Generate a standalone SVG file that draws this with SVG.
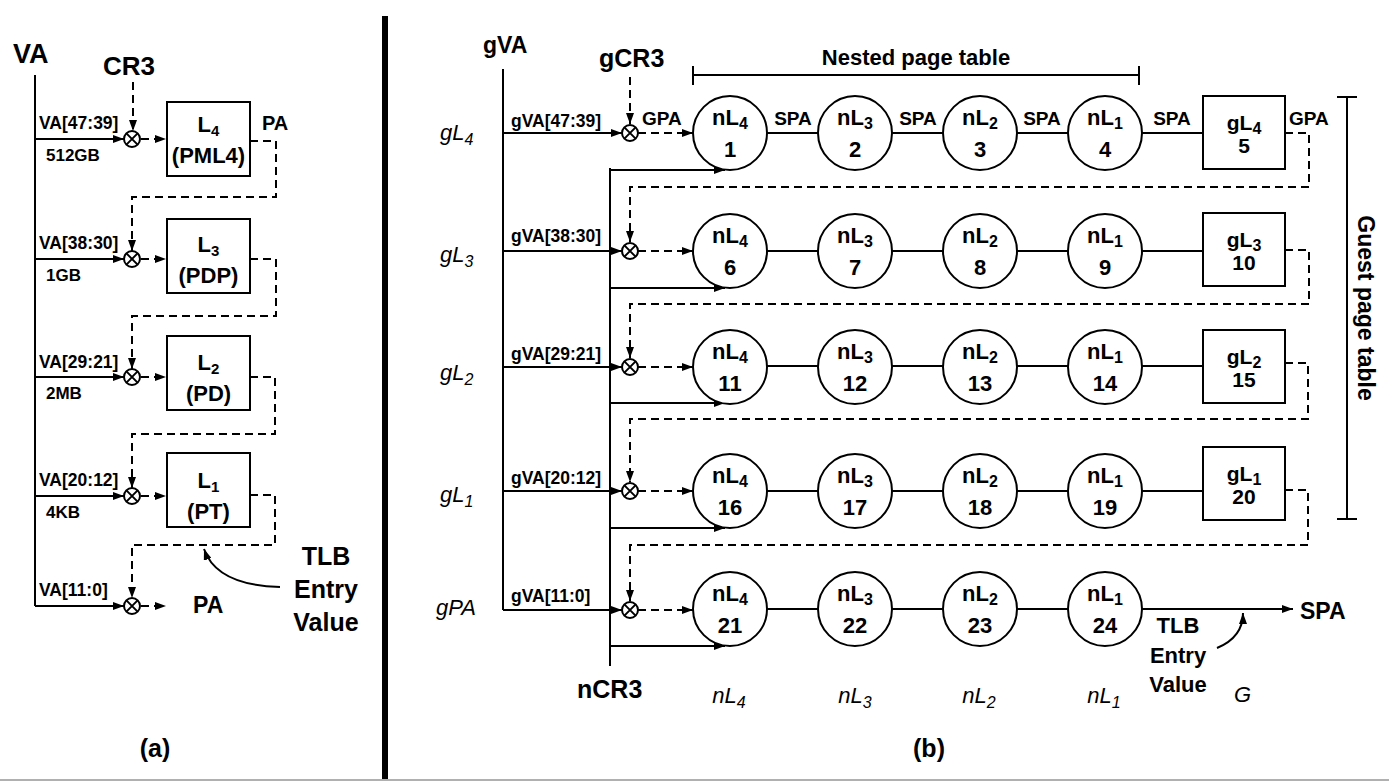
<svg xmlns="http://www.w3.org/2000/svg" width="1389" height="781" viewBox="0 0 1389 781">
<style>
.ln{stroke:#000;stroke-width:2;fill:none}
.ds{stroke:#000;stroke-width:2;fill:none;stroke-dasharray:8 5}
.nd{stroke:#000;stroke-width:2;fill:#fff}
.b{font-family:"Liberation Sans",Arial,sans-serif;font-weight:bold;fill:#000}
.i{font-family:"Liberation Sans",Arial,sans-serif;font-style:italic;fill:#000}
.c{text-anchor:middle}
.nt{font-size:22px}
</style>
<defs>
<marker id="ah" markerWidth="11" markerHeight="8" refX="11" refY="4" orient="auto" markerUnits="userSpaceOnUse"><path d="M0,0 L11,4 L0,8 z" fill="#000"/></marker>
<g id="ox"><circle r="8" fill="#fff" stroke="#000" stroke-width="2"/><path d="M-5.6,-5.6 L5.6,5.6 M-5.6,5.6 L5.6,-5.6" stroke="#000" stroke-width="2"/></g>
</defs>
<rect width="1389" height="781" fill="#fff"/>
<!-- divider and bottom rule -->
<rect x="382" y="16" width="6" height="765" fill="#000"/>
<line x1="0" y1="780" x2="1389" y2="780" stroke="#b0b0b0" stroke-width="2"/>

<!-- ===== Panel (a) ===== -->
<g id="a-connectors">
<line class="ln" x1="35" y1="75" x2="35" y2="606"/>
<line class="ln" x1="35" y1="139" x2="124" y2="139" marker-end="url(#ah)"/>
<line class="ln" x1="35" y1="259" x2="124" y2="259" marker-end="url(#ah)"/>
<line class="ln" x1="35" y1="377" x2="124" y2="377" marker-end="url(#ah)"/>
<line class="ln" x1="35" y1="496" x2="124" y2="496" marker-end="url(#ah)"/>
<line class="ln" x1="35" y1="606" x2="124" y2="606" marker-end="url(#ah)"/>
<line class="ds" x1="133" y1="82" x2="133" y2="131" marker-end="url(#ah)"/>
<line class="ds" x1="141" y1="139" x2="166" y2="139" marker-end="url(#ah)"/>
<line class="ds" x1="141" y1="259" x2="166" y2="259" marker-end="url(#ah)"/>
<line class="ds" x1="141" y1="377" x2="166" y2="377" marker-end="url(#ah)"/>
<line class="ds" x1="141" y1="496" x2="166" y2="496" marker-end="url(#ah)"/>
<line class="ds" x1="141" y1="606" x2="166" y2="606" marker-end="url(#ah)"/>
<path class="ds" d="M250,141 H276 V197 H132 V251" marker-end="url(#ah)"/>
<path class="ds" d="M250,259 H276 V316 H132 V369" marker-end="url(#ah)"/>
<path class="ds" d="M250,377 H275 V434 H132 V488" marker-end="url(#ah)"/>
<path class="ds" d="M250,495 H275 V545 H132 V598" marker-end="url(#ah)"/>
<path class="ln" stroke-width="1.5" d="M280,587 C242,586 213,575 204,549" marker-end="url(#ah)"/>
</g>
<use href="#ox" x="132" y="139"/>
<use href="#ox" x="132" y="259"/>
<use href="#ox" x="132" y="377"/>
<use href="#ox" x="132" y="496"/>
<use href="#ox" x="132" y="606"/>
<g id="a-labels">
<text class="b" x="13" y="63" font-size="27">VA</text>
<text class="b" x="103" y="75" font-size="26">CR3</text>
<text class="b" x="39" y="129" font-size="17.5">VA[47:39]</text>
<text class="b" x="46" y="161" font-size="17">512GB</text>
<text class="b" x="39" y="249" font-size="17.5">VA[38:30]</text>
<text class="b" x="46" y="281" font-size="17">1GB</text>
<text class="b" x="39" y="368" font-size="17.5">VA[29:21]</text>
<text class="b" x="46" y="399" font-size="17">2MB</text>
<text class="b" x="39" y="486" font-size="17.5">VA[20:12]</text>
<text class="b" x="46" y="518" font-size="17">4KB</text>
<text class="b" x="39" y="596" font-size="17.5">VA[11:0]</text>
<text class="b" x="262" y="130" font-size="20">PA</text>
<text class="b" x="193" y="613" font-size="23">PA</text>
<text class="b c" x="326" y="565" font-size="25">TLB</text>
<text class="b c" x="326" y="598" font-size="25">Entry</text>
<text class="b c" x="326" y="631" font-size="25">Value</text>
<text class="b c" x="155" y="757" font-size="25">(a)</text>
</g>
<g id="a-L4"><rect class="nd" x="167" y="102" width="83" height="74"/><text class="b c" x="208.5" y="132" font-size="22">L<tspan font-size="15" dy="4">4</tspan></text><text class="b c" x="208.5" y="163" font-size="22">(PML4)</text></g>
<g id="a-L3"><rect class="nd" x="167" y="219" width="83" height="74"/><text class="b c" x="208.5" y="252" font-size="22">L<tspan font-size="15" dy="4">3</tspan></text><text class="b c" x="208.5" y="283" font-size="22">(PDP)</text></g>
<g id="a-L2"><rect class="nd" x="167" y="336" width="83" height="74"/><text class="b c" x="208.5" y="370" font-size="22">L<tspan font-size="15" dy="4">2</tspan></text><text class="b c" x="208.5" y="401" font-size="22">(PD)</text></g>
<g id="a-L1"><rect class="nd" x="167" y="453" width="83" height="74"/><text class="b c" x="208.5" y="488" font-size="22">L<tspan font-size="15" dy="4">1</tspan></text><text class="b c" x="208.5" y="519" font-size="22">(PT)</text></g>

<!-- ===== Panel (b) ===== -->
<g id="b-connectors">
<line class="ln" x1="503" y1="69" x2="503" y2="610"/>
<line class="ln" x1="610" y1="168" x2="610" y2="666"/>
<line class="ln" x1="503" y1="133" x2="622" y2="133" marker-end="url(#ah)"/>
<line class="ln" x1="503" y1="251" x2="622" y2="251" marker-end="url(#ah)"/>
<line class="ln" x1="503" y1="367" x2="622" y2="367" marker-end="url(#ah)"/>
<line class="ln" x1="503" y1="491" x2="622" y2="491" marker-end="url(#ah)"/>
<line class="ln" x1="503" y1="610" x2="622" y2="610" marker-end="url(#ah)"/>
<line class="ln" x1="610" y1="170" x2="725" y2="170" marker-end="url(#ah)"/>
<line class="ln" x1="610" y1="288" x2="725" y2="288" marker-end="url(#ah)"/>
<line class="ln" x1="610" y1="403" x2="725" y2="403" marker-end="url(#ah)"/>
<line class="ln" x1="610" y1="528" x2="725" y2="528" marker-end="url(#ah)"/>
<line class="ln" x1="610" y1="646" x2="725" y2="646" marker-end="url(#ah)"/>
<line class="ds" x1="630" y1="77" x2="630" y2="124" marker-end="url(#ah)"/>
<line class="ds" x1="638" y1="133" x2="693" y2="133" marker-end="url(#ah)"/>
<line class="ds" x1="638" y1="251" x2="693" y2="251" marker-end="url(#ah)"/>
<line class="ds" x1="638" y1="367" x2="693" y2="367" marker-end="url(#ah)"/>
<line class="ds" x1="638" y1="491" x2="693" y2="491" marker-end="url(#ah)"/>
<line class="ds" x1="638" y1="610" x2="693" y2="610" marker-end="url(#ah)"/>
<path class="ln" d="M767,133 H818 M892,133 H943 M1017,133 H1068 M1142,133 H1203"/>
<path class="ln" d="M767,251 H818 M892,251 H943 M1017,251 H1068 M1142,251 H1203"/>
<path class="ln" d="M767,366 H818 M892,366 H943 M1017,366 H1068 M1142,366 H1203"/>
<path class="ln" d="M767,491 H818 M892,491 H943 M1017,491 H1068 M1142,491 H1203"/>
<path class="ln" d="M767,609 H818 M892,609 H943 M1017,609 H1068"/>
<line class="ln" x1="1142" y1="609" x2="1293" y2="609" marker-end="url(#ah)"/>
<path class="ds" d="M1285,133 H1309 V187 H630 V242" marker-end="url(#ah)"/>
<path class="ds" d="M1285,250 H1309 V304 H630 V358" marker-end="url(#ah)"/>
<path class="ds" d="M1285,363 H1308 V419 H630 V482" marker-end="url(#ah)"/>
<path class="ds" d="M1285,490 H1308 V545 H630 V601" marker-end="url(#ah)"/>
<path class="ln" stroke-width="1.5" d="M1217,648 C1234,641 1243,630 1243,613" marker-end="url(#ah)"/>
<path class="ln" d="M693,66 V85 M693,75 H1139 M1139,66 V85"/>
<path class="ln" d="M1337,97 H1357 M1347,97 V519 M1337,519 H1357"/>
</g>
<use href="#ox" x="630" y="133"/>
<use href="#ox" x="630" y="251"/>
<use href="#ox" x="630" y="367"/>
<use href="#ox" x="630" y="491"/>
<use href="#ox" x="630" y="610"/>
<g id="b-labels">
<text class="b" x="483" y="53" font-size="23">gVA</text>
<text class="b" x="599" y="67" font-size="25">gCR3</text>
<text class="b" x="577" y="698" font-size="25">nCR3</text>
<text class="b c" x="916" y="65" font-size="22">Nested page table</text>
<text class="b c" transform="translate(1358,308) rotate(90)" font-size="23">Guest page table</text>
<text class="b" x="511" y="127" font-size="17.5">gVA[47:39]</text>
<text class="b" x="511" y="242" font-size="17.5">gVA[38:30]</text>
<text class="b" x="511" y="360" font-size="17.5">gVA[29:21]</text>
<text class="b" x="511" y="484" font-size="17.5">gVA[20:12]</text>
<text class="b" x="511" y="602" font-size="17.5">gVA[11:0]</text>
<text class="b" x="642" y="125" font-size="19">GPA</text>
<text class="b c" x="793" y="125" font-size="19">SPA</text>
<text class="b c" x="918" y="125" font-size="19">SPA</text>
<text class="b c" x="1042" y="125" font-size="19">SPA</text>
<text class="b c" x="1172" y="125" font-size="19">SPA</text>
<text class="b" x="1289" y="125" font-size="19">GPA</text>
<text class="b" x="1300" y="619" font-size="23">SPA</text>
<text class="b c" x="1178" y="633" font-size="22">TLB</text>
<text class="b c" x="1178" y="663" font-size="22">Entry</text>
<text class="b c" x="1178" y="692" font-size="22">Value</text>
<text class="i" x="440" y="140" font-size="22">gL<tspan font-size="16" dy="5">4</tspan></text>
<text class="i" x="440" y="262" font-size="22">gL<tspan font-size="16" dy="5">3</tspan></text>
<text class="i" x="440" y="380" font-size="22">gL<tspan font-size="16" dy="5">2</tspan></text>
<text class="i" x="440" y="502" font-size="22">gL<tspan font-size="16" dy="5">1</tspan></text>
<text class="i" x="436" y="615" font-size="22">gPA</text>
<text class="i c" x="729" y="703" font-size="22">nL<tspan font-size="16" dy="5">4</tspan></text>
<text class="i c" x="855" y="703" font-size="22">nL<tspan font-size="16" dy="5">3</tspan></text>
<text class="i c" x="979" y="703" font-size="22">nL<tspan font-size="16" dy="5">2</tspan></text>
<text class="i c" x="1104" y="703" font-size="22">nL<tspan font-size="16" dy="5">1</tspan></text>
<text class="i" x="1234" y="702" font-size="22">G</text>
<text class="b c" x="929" y="757" font-size="25">(b)</text>
</g>

<!-- row 1 -->
<g id="n1"><circle class="nd" cx="730" cy="133" r="37"/><text class="b c nt" x="730" y="125">nL<tspan font-size="16" dy="4">4</tspan></text><text class="b c nt" x="730" y="157">1</text></g>
<g id="n2"><circle class="nd" cx="855" cy="133" r="37"/><text class="b c nt" x="855" y="125">nL<tspan font-size="16" dy="4">3</tspan></text><text class="b c nt" x="855" y="157">2</text></g>
<g id="n3"><circle class="nd" cx="980" cy="133" r="37"/><text class="b c nt" x="980" y="125">nL<tspan font-size="16" dy="4">2</tspan></text><text class="b c nt" x="980" y="157">3</text></g>
<g id="n4"><circle class="nd" cx="1105" cy="133" r="37"/><text class="b c nt" x="1105" y="125">nL<tspan font-size="16" dy="4">1</tspan></text><text class="b c nt" x="1105" y="157">4</text></g>
<g id="n5"><rect class="nd" x="1203" y="96" width="82" height="73"/><text class="b c" x="1244" y="130" font-size="21">gL<tspan font-size="16" dy="4">4</tspan></text><text class="b c" x="1244" y="153" font-size="21">5</text></g>
<!-- row 2 -->
<g id="n6"><circle class="nd" cx="730" cy="251" r="37"/><text class="b c nt" x="730" y="243">nL<tspan font-size="16" dy="4">4</tspan></text><text class="b c nt" x="730" y="275">6</text></g>
<g id="n7"><circle class="nd" cx="855" cy="251" r="37"/><text class="b c nt" x="855" y="243">nL<tspan font-size="16" dy="4">3</tspan></text><text class="b c nt" x="855" y="275">7</text></g>
<g id="n8"><circle class="nd" cx="980" cy="251" r="37"/><text class="b c nt" x="980" y="243">nL<tspan font-size="16" dy="4">2</tspan></text><text class="b c nt" x="980" y="275">8</text></g>
<g id="n9"><circle class="nd" cx="1105" cy="251" r="37"/><text class="b c nt" x="1105" y="243">nL<tspan font-size="16" dy="4">1</tspan></text><text class="b c nt" x="1105" y="275">9</text></g>
<g id="n10"><rect class="nd" x="1203" y="213" width="82" height="73"/><text class="b c" x="1244" y="247" font-size="21">gL<tspan font-size="16" dy="4">3</tspan></text><text class="b c" x="1244" y="270" font-size="21">10</text></g>
<!-- row 3 -->
<g id="n11"><circle class="nd" cx="730" cy="367" r="37"/><text class="b c nt" x="730" y="359">nL<tspan font-size="16" dy="4">4</tspan></text><text class="b c nt" x="730" y="391">11</text></g>
<g id="n12"><circle class="nd" cx="855" cy="367" r="37"/><text class="b c nt" x="855" y="359">nL<tspan font-size="16" dy="4">3</tspan></text><text class="b c nt" x="855" y="391">12</text></g>
<g id="n13"><circle class="nd" cx="980" cy="367" r="37"/><text class="b c nt" x="980" y="359">nL<tspan font-size="16" dy="4">2</tspan></text><text class="b c nt" x="980" y="391">13</text></g>
<g id="n14"><circle class="nd" cx="1105" cy="367" r="37"/><text class="b c nt" x="1105" y="359">nL<tspan font-size="16" dy="4">1</tspan></text><text class="b c nt" x="1105" y="391">14</text></g>
<g id="n15"><rect class="nd" x="1203" y="330" width="82" height="73"/><text class="b c" x="1244" y="364" font-size="21">gL<tspan font-size="16" dy="4">2</tspan></text><text class="b c" x="1244" y="387" font-size="21">15</text></g>
<!-- row 4 -->
<g id="n16"><circle class="nd" cx="730" cy="491" r="37"/><text class="b c nt" x="730" y="483">nL<tspan font-size="16" dy="4">4</tspan></text><text class="b c nt" x="730" y="515">16</text></g>
<g id="n17"><circle class="nd" cx="855" cy="491" r="37"/><text class="b c nt" x="855" y="483">nL<tspan font-size="16" dy="4">3</tspan></text><text class="b c nt" x="855" y="515">17</text></g>
<g id="n18"><circle class="nd" cx="980" cy="491" r="37"/><text class="b c nt" x="980" y="483">nL<tspan font-size="16" dy="4">2</tspan></text><text class="b c nt" x="980" y="515">18</text></g>
<g id="n19"><circle class="nd" cx="1105" cy="491" r="37"/><text class="b c nt" x="1105" y="483">nL<tspan font-size="16" dy="4">1</tspan></text><text class="b c nt" x="1105" y="515">19</text></g>
<g id="n20"><rect class="nd" x="1203" y="447" width="82" height="73"/><text class="b c" x="1244" y="481" font-size="21">gL<tspan font-size="16" dy="4">1</tspan></text><text class="b c" x="1244" y="504" font-size="21">20</text></g>
<!-- row 5 -->
<g id="n21"><circle class="nd" cx="730" cy="609" r="37"/><text class="b c nt" x="730" y="601">nL<tspan font-size="16" dy="4">4</tspan></text><text class="b c nt" x="730" y="633">21</text></g>
<g id="n22"><circle class="nd" cx="855" cy="609" r="37"/><text class="b c nt" x="855" y="601">nL<tspan font-size="16" dy="4">3</tspan></text><text class="b c nt" x="855" y="633">22</text></g>
<g id="n23"><circle class="nd" cx="980" cy="609" r="37"/><text class="b c nt" x="980" y="601">nL<tspan font-size="16" dy="4">2</tspan></text><text class="b c nt" x="980" y="633">23</text></g>
<g id="n24"><circle class="nd" cx="1105" cy="609" r="37"/><text class="b c nt" x="1105" y="601">nL<tspan font-size="16" dy="4">1</tspan></text><text class="b c nt" x="1105" y="633">24</text></g>
</svg>
